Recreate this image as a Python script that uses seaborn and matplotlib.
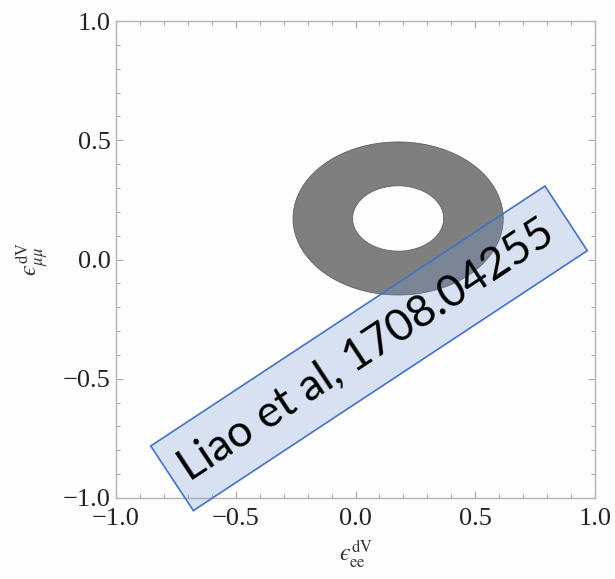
import numpy as np
import matplotlib
matplotlib.use("Agg")
import matplotlib.pyplot as plt
from matplotlib.path import Path
from matplotlib.patches import PathPatch, Polygon
from matplotlib.ticker import MultipleLocator
import seaborn as sns

# Allowed region: annulus between two ellipses centred on the best fit
ring_center = (0.178, 0.172)
outer_radii = (0.439, 0.321)
inner_radii = (0.190, 0.137)

axis_limits = (-1.0, 1.0)
major_ticks = [-1.0, -0.5, 0.0, 0.5, 1.0]
tick_labels = ["\u22121.0", "\u22120.5", "0.0", "0.5", "1.0"]

# Citation banner (corners in axes data units) and its text
banner_corners = [(-0.855, -0.782), (0.791, 0.308), (0.968, 0.037), (-0.677, -1.053)]
banner_text = "Liao et al, 1708.04255"
banner_text_pos = (0.047, -0.382)
banner_angle = 33.4

sns.set_theme(style="ticks")
plt.rcParams["mathtext.fontset"] = "stix"
plt.rcParams["font.family"] = ["Liberation Serif", "DejaVu Serif"]

fig = plt.figure(figsize=(6.15, 5.79), dpi=100, facecolor="#fdfdfd")
ax = fig.add_axes([116 / 615, 1 - 498 / 579, 479 / 615, 477 / 579])
ax.set_facecolor("#fdfdfd")


def ellipse_xy(center, radii, reverse=False):
    t = np.linspace(0, 2 * np.pi, 361)
    if reverse:
        t = t[::-1]
    return center[0] + radii[0] * np.cos(t), center[1] + radii[1] * np.sin(t)


ox, oy = ellipse_xy(ring_center, outer_radii)
ix, iy = ellipse_xy(ring_center, inner_radii, reverse=True)
verts = np.concatenate([np.column_stack([ox, oy]), np.column_stack([ix, iy])])
codes = np.full(len(verts), Path.LINETO)
codes[0] = Path.MOVETO
codes[len(ox)] = Path.MOVETO
ring = PathPatch(Path(verts, codes), facecolor="#7f7f7f", edgecolor="none", zorder=2)
ax.add_patch(ring)

# Thin dark outlines of both boundaries
for bx, by in [(ox, oy), (ix, iy)]:
    sns.lineplot(x=bx, y=by, sort=False, estimator=None, errorbar=None,
                 color="#555555", lw=0.5, ax=ax, zorder=3)

ax.set_xlim(*axis_limits)
ax.set_ylim(*axis_limits)
ax.set_xticks(major_ticks)
ax.set_yticks(major_ticks)
ax.set_xticklabels(tick_labels)
ax.set_yticklabels(tick_labels)
ax.xaxis.set_minor_locator(MultipleLocator(0.1))
ax.yaxis.set_minor_locator(MultipleLocator(0.1))
ax.tick_params(which="both", direction="in", top=True, right=True,
               color="#a8a8a8", width=0.8)
ax.tick_params(which="major", length=5, labelsize=19, pad=7,
               labelcolor="#222222")
ax.tick_params(which="minor", length=3)
ax.tick_params(axis="y", which="major", pad=4)
for s in ax.spines.values():
    s.set_color("#b4b4b4")
    s.set_linewidth(1.0)

ax.set_xlabel("$\u03f5^{\\rm dV}_{\\rm ee}$", fontsize=17, color="#333333", labelpad=6)
ax.set_ylabel("$\u03f5^{\\rm dV}_{\\mu\\mu}$", fontsize=17, color="#333333", labelpad=8)

# Semi-transparent citation banner
banner = Polygon(banner_corners, closed=True, facecolor=(0.424, 0.576, 0.82, 0.26),
                 edgecolor="#4472c4", lw=1.2, clip_on=False, zorder=5)
ax.add_patch(banner)
ax.text(*banner_text_pos, banner_text, rotation=banner_angle, rotation_mode="anchor",
        ha="center", va="center", fontsize=32, family=["Lato", "DejaVu Sans"],
        color="black", zorder=6, clip_on=False)

fig.savefig("out.png", dpi=100, facecolor=fig.get_facecolor())
